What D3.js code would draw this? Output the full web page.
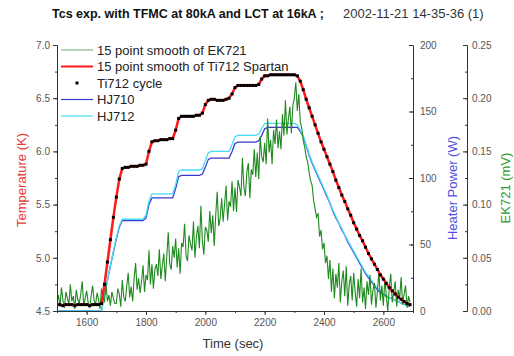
<!DOCTYPE html>
<html lang="en">
<head>
	<meta charset="utf-8">
	<title>Tcs exp. with TFMC at 80kA and LCT at 16kA</title>
	<script src='https://d3js.org/d3.v7.min.js'></script>
	<style>
		body { margin: 0; background: #fff; }
		text { font-family: "Liberation Sans", Arial, sans-serif; }
	</style>
</head>
<body>
	<div id="chart"></div>
	<script>
		// Temperature + heater power sampled every 10 s from 1500 s
		var tStart = 1500;
		var tStepSlow = 10;
		// EK721 sampled every 5 s from 1500 s
		var tStepFast = 5;

		// Ti712 temperature (K)
		var ti712 = [
			4.56,4.56,4.55,4.56,4.56,4.56,4.55,4.56,4.56,4.56,
			4.56,4.55,4.56,4.56,4.56,4.57,4.75,4.96,5.17,5.38,
			5.57,5.74,5.84,5.85,5.85,5.86,5.86,5.86,5.87,5.87,
			5.88,6.00,6.09,6.10,6.10,6.11,6.11,6.11,6.12,6.12,
			6.20,6.31,6.33,6.33,6.33,6.33,6.33,6.34,6.34,6.36,
			6.44,6.48,6.49,6.49,6.48,6.48,6.48,6.49,6.50,6.54,
			6.60,6.62,6.62,6.62,6.62,6.62,6.62,6.62,6.63,6.68,
			6.71,6.71,6.72,6.72,6.72,6.72,6.72,6.72,6.72,6.72,
			6.72,6.71,6.66,6.58,6.49,6.41,6.33,6.25,6.17,6.09,
			6.02,5.95,5.88,5.81,5.73,5.66,5.59,5.53,5.46,5.40,
			5.33,5.27,5.21,5.16,5.10,5.04,4.99,4.94,4.89,4.84,
			4.80,4.76,4.72,4.69,4.66,4.63,4.61,4.59,4.57,4.56
		];
		// Heater power HJ710 (W)
		var hj710 = [
			0,0,0,0,0,0,0,0,0,0,
			0,0,0,0,0,0,12,23,34,44,
			54,63,68,68,68,68,68,68,68,68,
			70,80,85,85,85,85,85,85,85,85,
			92,101,102,102,102,102,102,102,102,103,
			108,114,115,115,115,115,115,115,115,120,
			126,127,127,127,127,127,127,127,128,132,
			137,138,138,138,138,138,138,138,138,138,
			138,138,135,131,124,117,111,106,101,96,
			91,86,81,75,70,66,61,57,52,48,
			44,40,36,32,28,25,22,19,16,14,
			13,11,10,9,8,7,6,5,4,3.5
		];
		// Heater power HJ712 (W)
		var hj712 = [
			0,0,0,0,0,0,0,0,0,0,
			0,0,0,0,0,0,12,23,34,45,
			55,64,69,69,69,69,69,69,69,69,
			72,83,88,88,88,88,88,88,88,88,
			95,105,106,106,106,106,106,106,106,107,
			113,119,120,120,120,120,120,120,120,125,
			131,132,132,132,132,132,132,132,133,137,
			141,141,141,141,141,141,141,141,141,141,
			141,140,136,132,125,118,112,107,102,97,
			92,87,81,76,71,66,62,57,53,49,
			45,41,37,33,29,26,23,20,17,15,
			13,12,10,9,8,7,6,5,4,4
		];
		// EK721 voltage in microvolts (15 point smooth)
		var ek721uV = [
			8,15,4,22,10,3,18,12,6,25,
			9,14,2,20,11,7,16,28,5,12,
			19,8,3,14,24,10,6,17,11,2,
			21,13,8,26,9,15,5,18,12,7,
			7,21,16,4,29,13,9,23,36,13,
			23,9,31,45,20,31,17,28,43,18,
			34,29,57,25,44,21,39,44,33,58,
			30,43,54,28,51,74,44,39,61,50,
			68,41,59,35,64,60,82,52,47,71,
			63,57,84,50,70,80,59,99,66,53,
			79,76,65,94,73,90,61,90,112,80,
			87,106,84,101,118,85,103,98,122,94,
			116,93,123,117,108,144,116,108,131,139,
			106,133,128,152,126,149,124,164,145,140,
			158,138,181,149,161,138,170,157,180,153,
			169,152,185,165,198,166,181,192,167,193,
			200,215,188,204,178,172,160,154,145,140,
			130,122,118,104,96,88,92,70,76,58,
			64,45,52,30,48,18,40,12,35,22,
			45,8,28,38,14,42,5,25,33,10,
			36,18,4,30,12,40,8,22,2,28,
			15,34,6,20,26,3,18,38,10,24,
			5,30,14,0,22,35,8,18,28,4,
			20,12,32,6,16,24,3,14,8
		];

		var xTicks = [1600, 1800, 2000, 2200, 2400, 2600];
		var tempTicks = [4.5, 5.0, 5.5, 6.0, 6.5, 7.0];
		var powerTicks = [0, 50, 100, 150, 200];
		var ekTicks = [0, 0.05, 0.10, 0.15, 0.20, 0.25];

		var legendLabels = ["15 point smooth of EK721", "15 point smooth of Ti712 Spartan", "Ti712 cycle", "HJ710", "HJ712"];
		var legendColors = ["#2e8b2e", "#ff1a1a", "#000000", "#3a3ad0", "#45dcf5"];

		var width = 514;
		var height = 356;
		// plot frame (note: "top" is a reserved window property, so prefix these)
		var plotLeft = 57, plotRight = 413, plotTop = 45, plotBottom = 311;
		var ekAxisX = 467;

		var svg = d3.select("#chart").append("svg")
					.attr("width", width)
					.attr("height", height);

		// scales
		var x = d3.scaleLinear().domain([1500, 2700]).range([plotLeft, plotRight]);
		var yT = d3.scaleLinear().domain([4.5, 7.0]).range([plotBottom, plotTop]);
		var yP = d3.scaleLinear().domain([0, 200]).range([plotBottom, plotTop]);
		var yE = d3.scaleLinear().domain([0, 0.25]).range([plotBottom, plotTop]);

		var slowData = function(arr) {
			return arr.map(function(v, i) { return { t: tStart + i * tStepSlow, v: v }; });
		};
		var tempData = slowData(ti712);
		var p710Data = slowData(hj710);
		var p712Data = slowData(hj712);
		var ekData = ek721uV.map(function(v, i) { return { t: tStart + i * tStepFast, v: v / 1000 }; });

		// clip the traces to the plot frame
		svg.append("clipPath").attr("id", "plotClip")
			.append("rect")
			.attr("x", plotLeft).attr("y", plotTop - 2)
			.attr("width", plotRight - plotLeft).attr("height", plotBottom - plotTop + 2);

		var plot = svg.append("g").attr("clip-path", "url(#plotClip)");

		var lineP = d3.line().x(function(d) { return x(d.t); }).y(function(d) { return yP(d.v); });
		var lineT = d3.line().x(function(d) { return x(d.t); }).y(function(d) { return yT(d.v); });
		var lineE = d3.line().x(function(d) { return x(d.t); }).y(function(d) { return yE(d.v); });

		plot.append("path").datum(p710Data)
			.attr("fill", "none").attr("stroke", legendColors[3]).attr("stroke-width", 1.3)
			.attr("d", lineP);
		plot.append("path").datum(p712Data)
			.attr("fill", "none").attr("stroke", legendColors[4]).attr("stroke-width", 1.3)
			.attr("d", lineP);
		plot.append("path").datum(ekData)
			.attr("fill", "none").attr("stroke", "#1f8a1f").attr("stroke-width", 1.1)
			.attr("d", lineE);
		plot.append("path").datum(tempData)
			.attr("fill", "none").attr("stroke", legendColors[1]).attr("stroke-width", 2.5)
			.attr("d", lineT);
		plot.selectAll("rect.dot").data(tempData).enter().append("rect")
			.attr("class", "dot")
			.attr("x", function(d) { return x(d.t) - 1.5; })
			.attr("y", function(d) { return yT(d.v) - 1.5; })
			.attr("width", 3).attr("height", 3)
			.attr("fill", "#000");

		// axes
		var styleAxis = function(g) {
			g.selectAll("path, line").attr("stroke", "#333");
			g.selectAll("text").attr("fill", "#555").style("font-size", "10px");
		};
		var minorT = d3.range(4.5, 7.01, 0.25);
		var minorX = d3.range(1500, 2701, 100);
		var minorP = d3.range(0, 201, 25);
		var minorE = d3.range(0, 0.251, 0.025);

		svg.append("g").attr("transform", "translate(" + plotLeft + ",0)")
			.call(d3.axisLeft(yT).tickValues(minorT).tickFormat("").tickSizeInner(2).tickSizeOuter(0)).call(styleAxis);
		svg.append("g").attr("transform", "translate(" + plotLeft + ",0)")
			.call(d3.axisLeft(yT).tickValues(tempTicks).tickFormat(d3.format(".1f")).tickSizeInner(4).tickSizeOuter(0).tickPadding(3)).call(styleAxis);

		svg.append("g").attr("transform", "translate(0," + plotBottom + ")")
			.call(d3.axisBottom(x).tickValues(minorX).tickFormat("").tickSizeInner(2).tickSizeOuter(0)).call(styleAxis);
		svg.append("g").attr("transform", "translate(0," + plotBottom + ")")
			.call(d3.axisBottom(x).tickValues(xTicks).tickFormat(d3.format("d")).tickSizeInner(4).tickSizeOuter(0).tickPadding(4)).call(styleAxis);

		svg.append("g").attr("transform", "translate(" + plotRight + ",0)")
			.call(d3.axisRight(yP).tickValues(minorP).tickFormat("").tickSizeInner(-2).tickSizeOuter(0)).call(styleAxis);
		svg.append("g").attr("transform", "translate(" + plotRight + ",0)")
			.call(d3.axisRight(yP).tickValues(powerTicks).tickFormat(d3.format("d")).tickSizeInner(-4).tickSizeOuter(0).tickPadding(7)).call(styleAxis);

		svg.append("g").attr("transform", "translate(" + ekAxisX + ",0)")
			.call(d3.axisRight(yE).tickValues(minorE).tickFormat("").tickSizeInner(-2).tickSizeOuter(0)).call(styleAxis);
		svg.append("g").attr("transform", "translate(" + ekAxisX + ",0)")
			.call(d3.axisRight(yE).tickValues(ekTicks).tickFormat(d3.format(".2f")).tickSizeInner(-4).tickSizeOuter(0).tickPadding(5)).call(styleAxis);

		// axis titles
		svg.append("text")
			.attr("transform", "translate(26,180) rotate(-90)")
			.attr("text-anchor", "middle").style("font-size", "13px")
			.attr("fill", "#e83a3a").text("Temperature (K)");
		svg.append("text")
			.attr("transform", "translate(457,188) rotate(-90)")
			.attr("text-anchor", "middle").style("font-size", "13px")
			.attr("fill", "#5050e0").text("Heater Power (W)");
		svg.append("text")
			.attr("transform", "translate(510,188) rotate(-90)")
			.attr("text-anchor", "middle").style("font-size", "13px")
			.attr("fill", "#2e9a2e").text("EK721 (mV)");
		svg.append("text")
			.attr("x", 233).attr("y", 348)
			.attr("text-anchor", "middle").style("font-size", "13px")
			.attr("fill", "#333").text("Time (sec)");

		// title
		svg.append("text")
			.attr("x", 52).attr("y", 18)
			.style("font-size", "12.5px").style("font-weight", "bold")
			.attr("fill", "#111").text("Tcs exp. with TFMC at 80kA and LCT at 16kA ;");
		svg.append("text")
			.attr("x", 343).attr("y", 18)
			.style("font-size", "13px")
			.attr("fill", "#333").text("2002-11-21 14-35-36 (1)");

		// legend
		var legend = svg.selectAll("g.legend").data(legendLabels).enter().append("g")
			.attr("class", "legend")
			.attr("transform", function(d, i) { return "translate(61," + (50 + i * 16.5) + ")"; });
		legend.each(function(d, i) {
			var g = d3.select(this);
			if (i == 2) {
				g.append("rect").attr("x", 14.5).attr("y", -1.5).attr("width", 3).attr("height", 3).attr("fill", "#000");
			} else {
				g.append("line").attr("x1", 0).attr("x2", 32).attr("y1", 0).attr("y2", 0)
					.attr("stroke", legendColors[i]).attr("stroke-width", i == 1 ? 2 : 1.2)
					.attr("stroke-opacity", i == 0 ? 0.6 : 1);
			}
		});
		legend.append("text")
			.attr("x", 36).attr("y", 4.5)
			.style("font-size", "13px").attr("fill", "#222")
			.text(function(d) { return d; });
	</script>
</body>
</html>
